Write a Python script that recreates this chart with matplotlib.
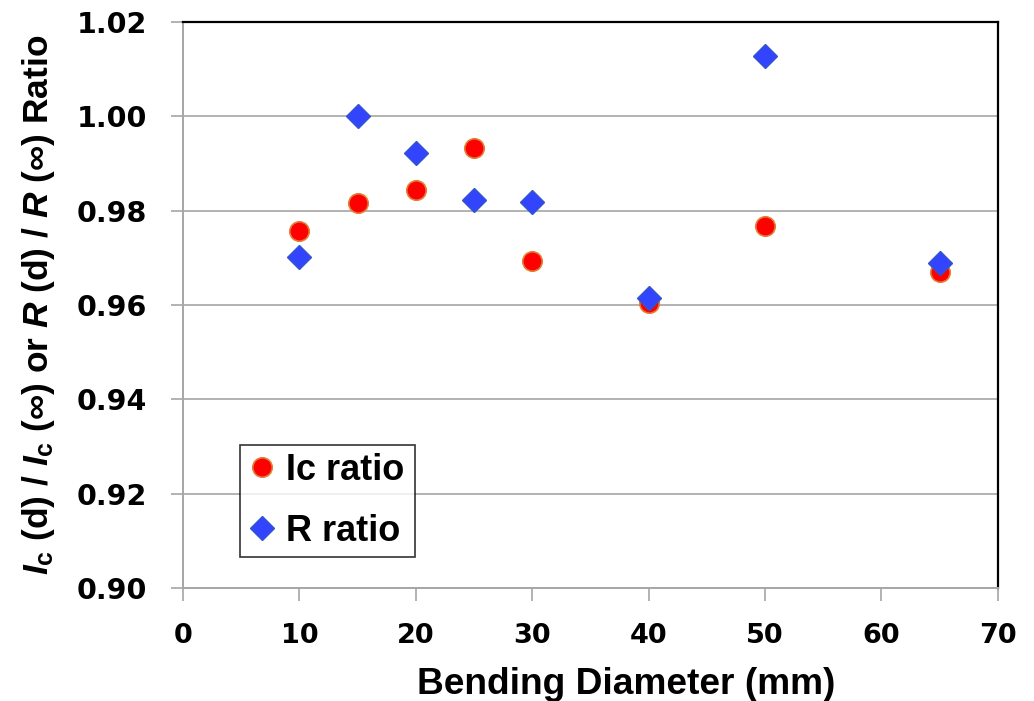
import numpy as np
import matplotlib
matplotlib.use("Agg")
import matplotlib.pyplot as plt

# bending diameter (mm)
diam = [10, 15, 20, 25, 30, 40, 50, 65]
ic_ratio = [0.9756, 0.9815, 0.9843, 0.9932, 0.9693, 0.9604, 0.9767, 0.9669]
r_ratio = [0.9701, 1.0000, 0.9921, 0.9822, 0.9818, 0.9615, 1.0128, 0.9688]

xticks = [0, 10, 20, 30, 40, 50, 60, 70]
yticks = [0.90, 0.92, 0.94, 0.96, 0.98, 1.00, 1.02]

plt.rcParams['font.family'] = ['Liberation Sans', 'DejaVu Sans']
plt.rcParams['mathtext.fontset'] = 'custom'
plt.rcParams['mathtext.rm'] = 'Liberation Sans:bold'
plt.rcParams['mathtext.it'] = 'Liberation Sans:bold:italic'
plt.rcParams['mathtext.bf'] = 'Liberation Sans:bold'

fig = plt.figure(figsize=(10.34, 7.01), dpi=100)
ax = fig.add_axes([0.177, 0.161, 0.788, 0.808])

ax.plot(diam, ic_ratio, 'o', color='#ff0000', markeredgecolor='#e0803a',
        markeredgewidth=1.2, markersize=14, label='Ic ratio', zorder=3)
ax.plot(diam, r_ratio, 'D', color='#3344ff', markeredgecolor='#3355cc',
        markeredgewidth=1.0, markersize=12, label='R ratio', zorder=4)

ax.set_xlim(0, 70)
ax.set_ylim(0.90, 1.02)
ax.set_xticks(xticks)
ax.set_yticks(yticks)
ax.set_yticklabels(['%.2f' % v for v in yticks])
ax.yaxis.grid(True, color='#a6a6a6', linewidth=1.2)
ax.set_axisbelow(True)

for lab in ax.get_xticklabels():
    lab.set_family('DejaVu Sans')
    lab.set_fontweight('bold')
    lab.set_fontsize(19.5)
for lab in ax.get_yticklabels():
    lab.set_family('DejaVu Sans')
    lab.set_fontweight('bold')
    lab.set_fontsize(20.5)
ax.tick_params(axis='both', direction='out', length=9, width=1.2,
               color='#a6a6a6')
ax.tick_params(axis='y', pad=17)
ax.tick_params(axis='x', pad=16)

ax.spines['left'].set_color('#a6a6a6')
ax.spines['bottom'].set_color('#a6a6a6')
ax.spines['left'].set_linewidth(1.4)
ax.spines['bottom'].set_linewidth(1.4)
ax.spines['top'].set_color('black')
ax.spines['right'].set_color('black')
ax.spines['top'].set_linewidth(1.6)
ax.spines['right'].set_linewidth(1.6)

ax.set_xlabel('Bending Diameter (mm)', fontsize=26.7, fontweight='bold')
ax.xaxis.set_label_coords(0.544, -0.139)
ax.set_ylabel(r'$I_\mathrm{c}$ (d) / $I_\mathrm{c}$ ($\infty$) or $R$ (d) / $R$ ($\infty$) Ratio',
              fontsize=25.5, fontweight='bold', labelpad=14)

leg = ax.legend(loc='lower left', bbox_to_anchor=(0.07, 0.055, 0.215, 0.2),
                mode='expand', borderaxespad=0,
                prop={'weight': 'bold', 'size': 26},
                frameon=True, fancybox=False, handletextpad=0.25,
                borderpad=0.22, labelspacing=0.73, handlelength=0.8)
leg.get_frame().set_edgecolor('black')
leg.get_frame().set_linewidth(1.2)

fig.savefig('out.png', dpi=100)
